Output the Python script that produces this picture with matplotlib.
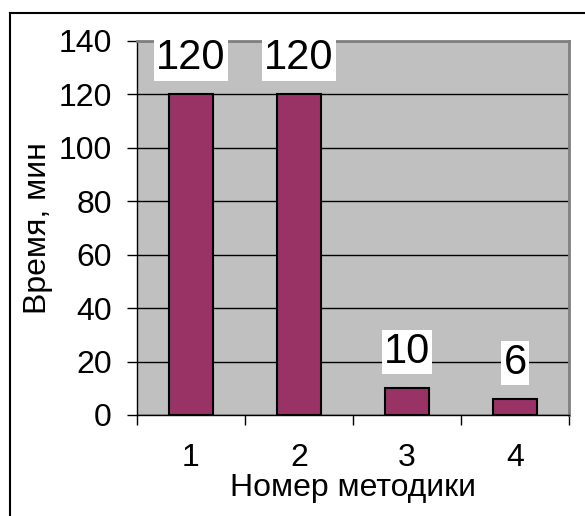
import matplotlib
matplotlib.use("Agg")
import matplotlib.pyplot as plt
from matplotlib.lines import Line2D

plt.rcParams['font.family'] = ['Liberation Sans', 'DejaVu Sans']

methods = ['1', '2', '3', '4']
times = [120, 120, 10, 6]
y_ticks = [0, 20, 40, 60, 80, 100, 120, 140]

W, H = 585, 516
fig = plt.figure(figsize=(W / 100, H / 100), dpi=100)
fig.patch.set_facecolor('white')

# plot area in pixel terms
left, right, top, bottom = 137, 569, 41, 415
ax = fig.add_axes([left / W, 1 - bottom / H, (right - left) / W, (bottom - top) / H])
ax.set_facecolor('#C0C0C0')

x = list(range(1, len(methods) + 1))
ax.bar(x, times, width=0.4, color='#993366', edgecolor='black', linewidth=1.5, zorder=3)

for xi, v in zip(x, times):
    ax.annotate(str(v), (xi, v), xytext=(0, 11.5), textcoords='offset points',
                ha='center', va='bottom', fontsize=30, zorder=5,
                bbox=dict(facecolor='white', edgecolor='none', pad=1.5))

ax.set_xlim(0.5, len(methods) + 0.5)
ax.set_ylim(0, 140)
ax.set_yticks(y_ticks)
ax.yaxis.grid(True, color='black', linewidth=1, zorder=1)
ax.set_axisbelow(True)

# category boundaries carry the tick marks, centres carry the labels
ax.set_xticks([i + 0.5 for i in range(len(methods) + 1)])
ax.set_xticklabels([])
ax.set_xticks(x, minor=True)
ax.set_xticklabels(methods, minor=True)
ax.tick_params(axis='x', which='major', direction='out', length=7, width=1, color='black')
ax.tick_params(axis='x', which='minor', length=0, pad=20, labelsize=23)
ax.tick_params(axis='y', direction='out', length=7.2, width=1, pad=11, labelsize=23)

for s in ['left', 'bottom']:
    ax.spines[s].set_color('black')
    ax.spines[s].set_linewidth(1)
for s in ['top', 'right']:
    ax.spines[s].set_color('#808080')
    ax.spines[s].set_linewidth(2)

ax.set_xlabel('Номер методики', fontsize=23)
ax.xaxis.set_label_coords(0.5, -0.155)
ax.set_ylabel('Время, мин', fontsize=23)
ax.yaxis.set_label_coords(-0.194, 0.5)

# outer frame (top and left edges)
fig.add_artist(Line2D([9.5 / W, 1], [1 - 12.5 / H, 1 - 12.5 / H], color='black', linewidth=1.5))
fig.add_artist(Line2D([9.5 / W, 9.5 / W], [0, 1 - 12.5 / H], color='black', linewidth=1.5))

fig.savefig('out.png', dpi=100)
